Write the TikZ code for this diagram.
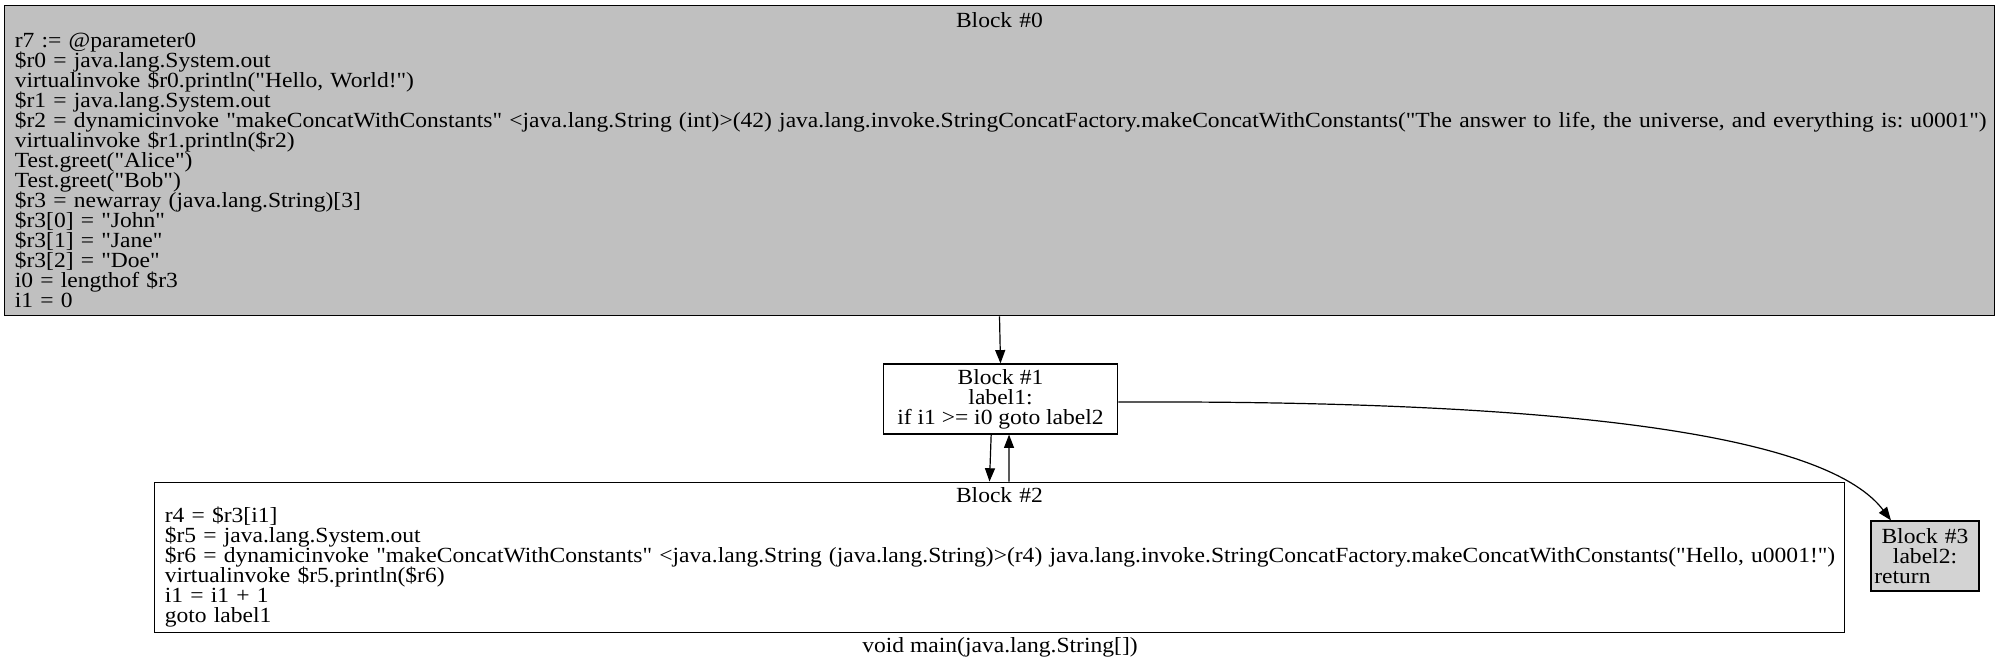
\documentclass[tikz,border=0pt]{standalone}
\usepackage{fontspec}
\setmainfont{Liberation Serif}[Ligatures=TeXOff, FakeStretch=1.09]
\usetikzlibrary{arrows.meta}
\definecolor{gray0}{HTML}{C0C0C0}
\definecolor{gray3}{HTML}{D3D3D3}
\newcommand{\blockfont}{\fontsize{16.2pt}{15pt}\selectfont\frenchspacing\lineskiplimit=-20pt\relax}
\newcommand{\btitle}[1]{\makebox[\linewidth]{#1}}

\begin{document}
\begin{tikzpicture}[x=0.75pt, y=-0.75pt, font=\blockfont, block/.style={draw, rectangle, line width=0.9pt, inner xsep=8pt, inner ysep=0pt, align=left}, n/.style={-{Triangle[length=10pt, width=7.5pt]}, line width=0.9pt}]
            \useasboundingbox (0,0) rectangle (2001,669);
            % nodes
            \node[block, fill=gray0, text width=1477pt, minimum height=233pt] (b0) at (999.5,160.5) {\btitle{Block \#0}\\
                r7 := @parameter0\\
                \$r0 = java.lang.System.out\\
                virtualinvoke \$r0.println("Hello, World!")\\
                \$r1 = java.lang.System.out\\
                \mbox{\$r2 = dynamicinvoke "makeConcatWithConstants" <java.lang.String (int)>(42) java.lang.invoke.StringConcatFactory.makeConcatWithConstants("The answer to life, the universe, and everything is: u0001")}\\
                virtualinvoke \$r1.println(\$r2)\\
                Test.greet("Alice")\\
                Test.greet("Bob")\\
                \$r3 = newarray (java.lang.String)[3]\\
                \$r3[0] = "John"\\
                \$r3[1] = "Jane"\\
                \$r3[2] = "Doe"\\
                i0 = lengthof \$r3\\
                i1 = 0};

            \node[block, align=center, inner xsep=4pt, minimum width=176pt, minimum height=52.5pt] (b1) at (1000.5,399) {Block \#1\\ label1:\\ if i1 >= i0 goto label2};

            \node[block, text width=1252pt, minimum height=113pt] (b2) at (999.5,557.5) {\btitle{Block \#2}\\
                r4 = \$r3[i1]\\
                \$r5 = java.lang.System.out\\
                \mbox{\$r6 = dynamicinvoke "makeConcatWithConstants" <java.lang.String (java.lang.String)>(r4) java.lang.invoke.StringConcatFactory.makeConcatWithConstants("Hello, u0001!")}\\
                virtualinvoke \$r5.println(\$r6)\\
                i1 = i1 + 1\\
                goto label1};

            \node[block, fill=gray3, inner xsep=2.5pt, text width=76pt, minimum height=52.5pt] (b3) at (1925,556) {\btitle{Block \#3}\\ \btitle{label2:}\\ return};

            \node[] (cap) at (1000,647) {void main(java.lang.String[])};
            % edges
            \draw [n] (b0.south) -- (b1.north);
            \draw [n] ([xshift=-7pt]b1.south) -- ([xshift=-7.5pt]b2.north);
            \draw [n] ([xshift=7.1pt]b2.north) -- ([xshift=6.4pt]b1.south);
            \draw [n] ([yshift=-2.25pt]b1.east) .. controls (1600,400) and (1830,440) .. ([xshift=-25.5pt]b3.north);
        \end{tikzpicture}
\end{document}
